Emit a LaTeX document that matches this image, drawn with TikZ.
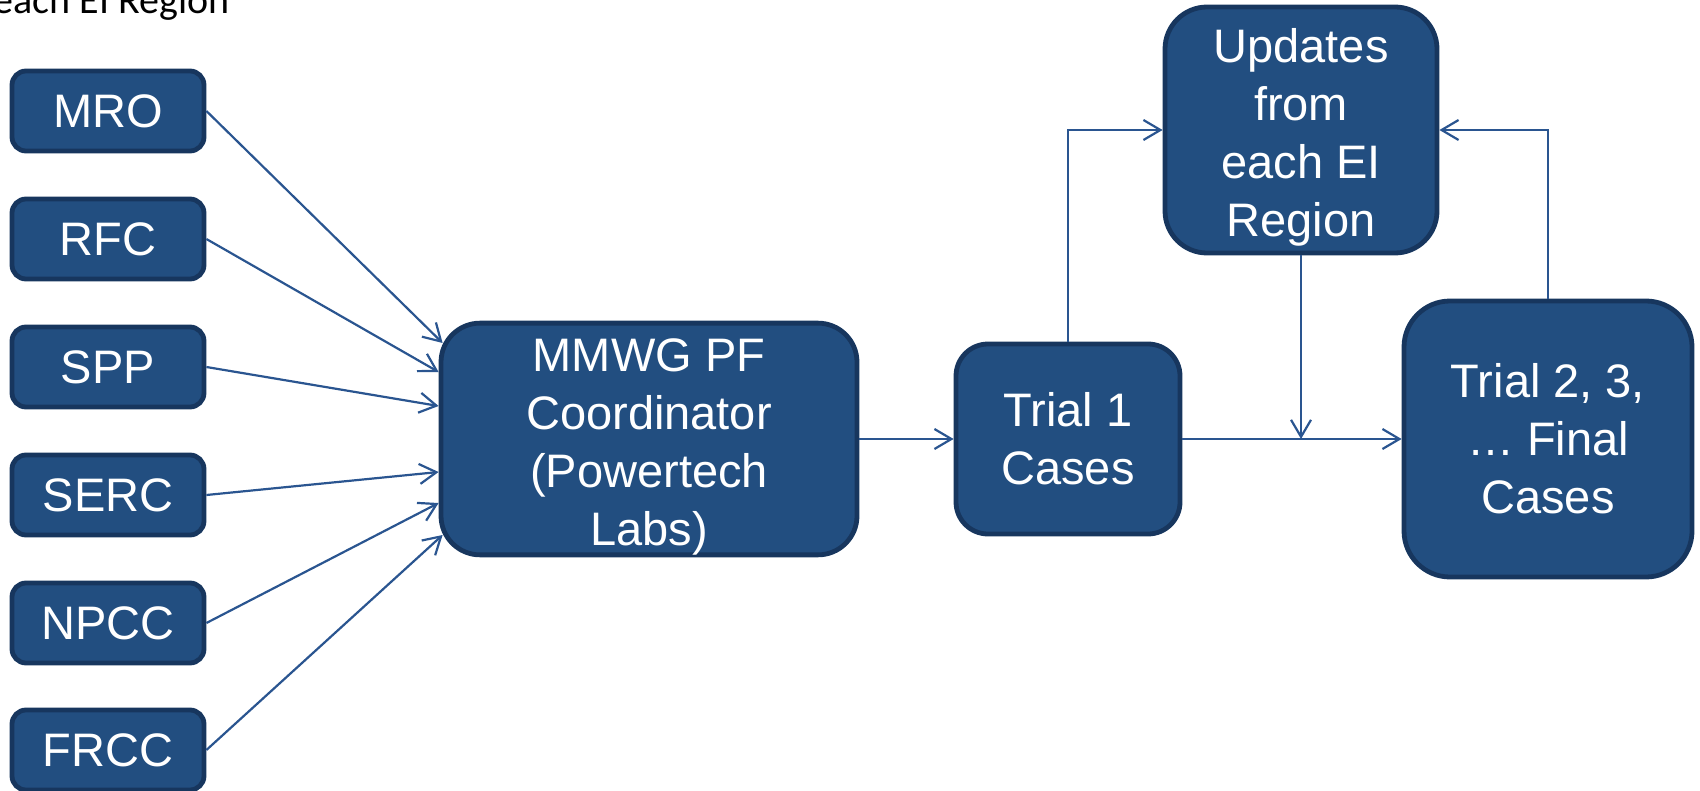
\documentclass[tikz,border=0pt]{standalone}
\usepackage{fontspec}
\setmainfont{Liberation Sans}
\newfontfamily\calibri{Carlito}
\usetikzlibrary{arrows.meta,calc}
\definecolor{boxfill}{HTML}{224E80}
\definecolor{boxedge}{HTML}{17365E}
\definecolor{linecol}{HTML}{2A5590}
\newcommand{\topstrut}{\rule{0pt}{24pt}}
\begin{document}
\begin{tikzpicture}[x=0.5pt,y=-0.5pt,
  box/.style={draw=boxedge, line width=2.4pt, fill=boxfill, text=white,
    font=\fontsize{23.5}{29}\selectfont, align=center, inner sep=0pt,
    rounded corners=#1},
  box/.default=7pt,
  small/.style={box=7pt, minimum width=96pt, minimum height=40pt},
  conn/.style={draw=linecol, line width=1.1pt,
    -{Straight Barb[length=8.5pt,width=10pt,line width=1.1pt]}}]
\useasboundingbox (0,0) rectangle (1700,791);
\clip (0,0) rectangle (1700,791);
\node[anchor=base east, font=\calibri\fontsize{20}{24}\selectfont, inner sep=0pt] (title) at (230,14) {each EI Region};

\node[small] (mro)  at (108,111)   {MRO};
\node[small] (rfc)  at (108,239)   {RFC};
\node[small] (spp)  at (108,367)   {SPP};
\node[small] (serc) at (108,495)   {SERC};
\node[small] (npcc) at (108,623)   {NPCC};
\node[small] (frcc) at (108,750)   {FRCC};

\node[box=19.5pt, minimum width=208pt, minimum height=115pt] (m) at (649,439)
  {\topstrut MMWG PF\\Coordinator\\(Powertech\\Labs)};
\node[box=16pt, minimum width=112pt, minimum height=95pt] (t1) at (1068,439)
  {Trial 1\\Cases};
\node[box=23pt, minimum width=144pt, minimum height=138pt] (t2) at (1548,439)
  {Trial 2, 3,\\… Final\\Cases};
\node[box=21pt, minimum width=136pt, minimum height=123pt] (up) at (1301,130)
  {\topstrut Updates\\from\\each EI\\Region};

\draw[conn] (mro.east)  -- ([xshift=2pt,yshift=48pt]m.west);
\draw[conn] (rfc.east)  -- ([yshift=33.5pt]m.west);
\draw[conn] (spp.east)  -- ([yshift=16.5pt]m.west);
\draw[conn] (serc.east) -- ([yshift=-16.5pt]m.west);
\draw[conn] (npcc.east) -- ([yshift=-32pt]m.west);
\draw[conn] (frcc.east) -- ([xshift=2pt,yshift=-48pt]m.west);

\draw[conn] (m.east) -- (t1.west);
\draw[conn] (t1.east) -- (t2.west);
\draw[conn] (t1.north) |- (up.west);
\draw[conn] (t2.north) |- (up.east);
\coordinate (j) at (up.south |- t1.east);
\draw[conn] (up.south) -- (j);
\end{tikzpicture}
\end{document}
